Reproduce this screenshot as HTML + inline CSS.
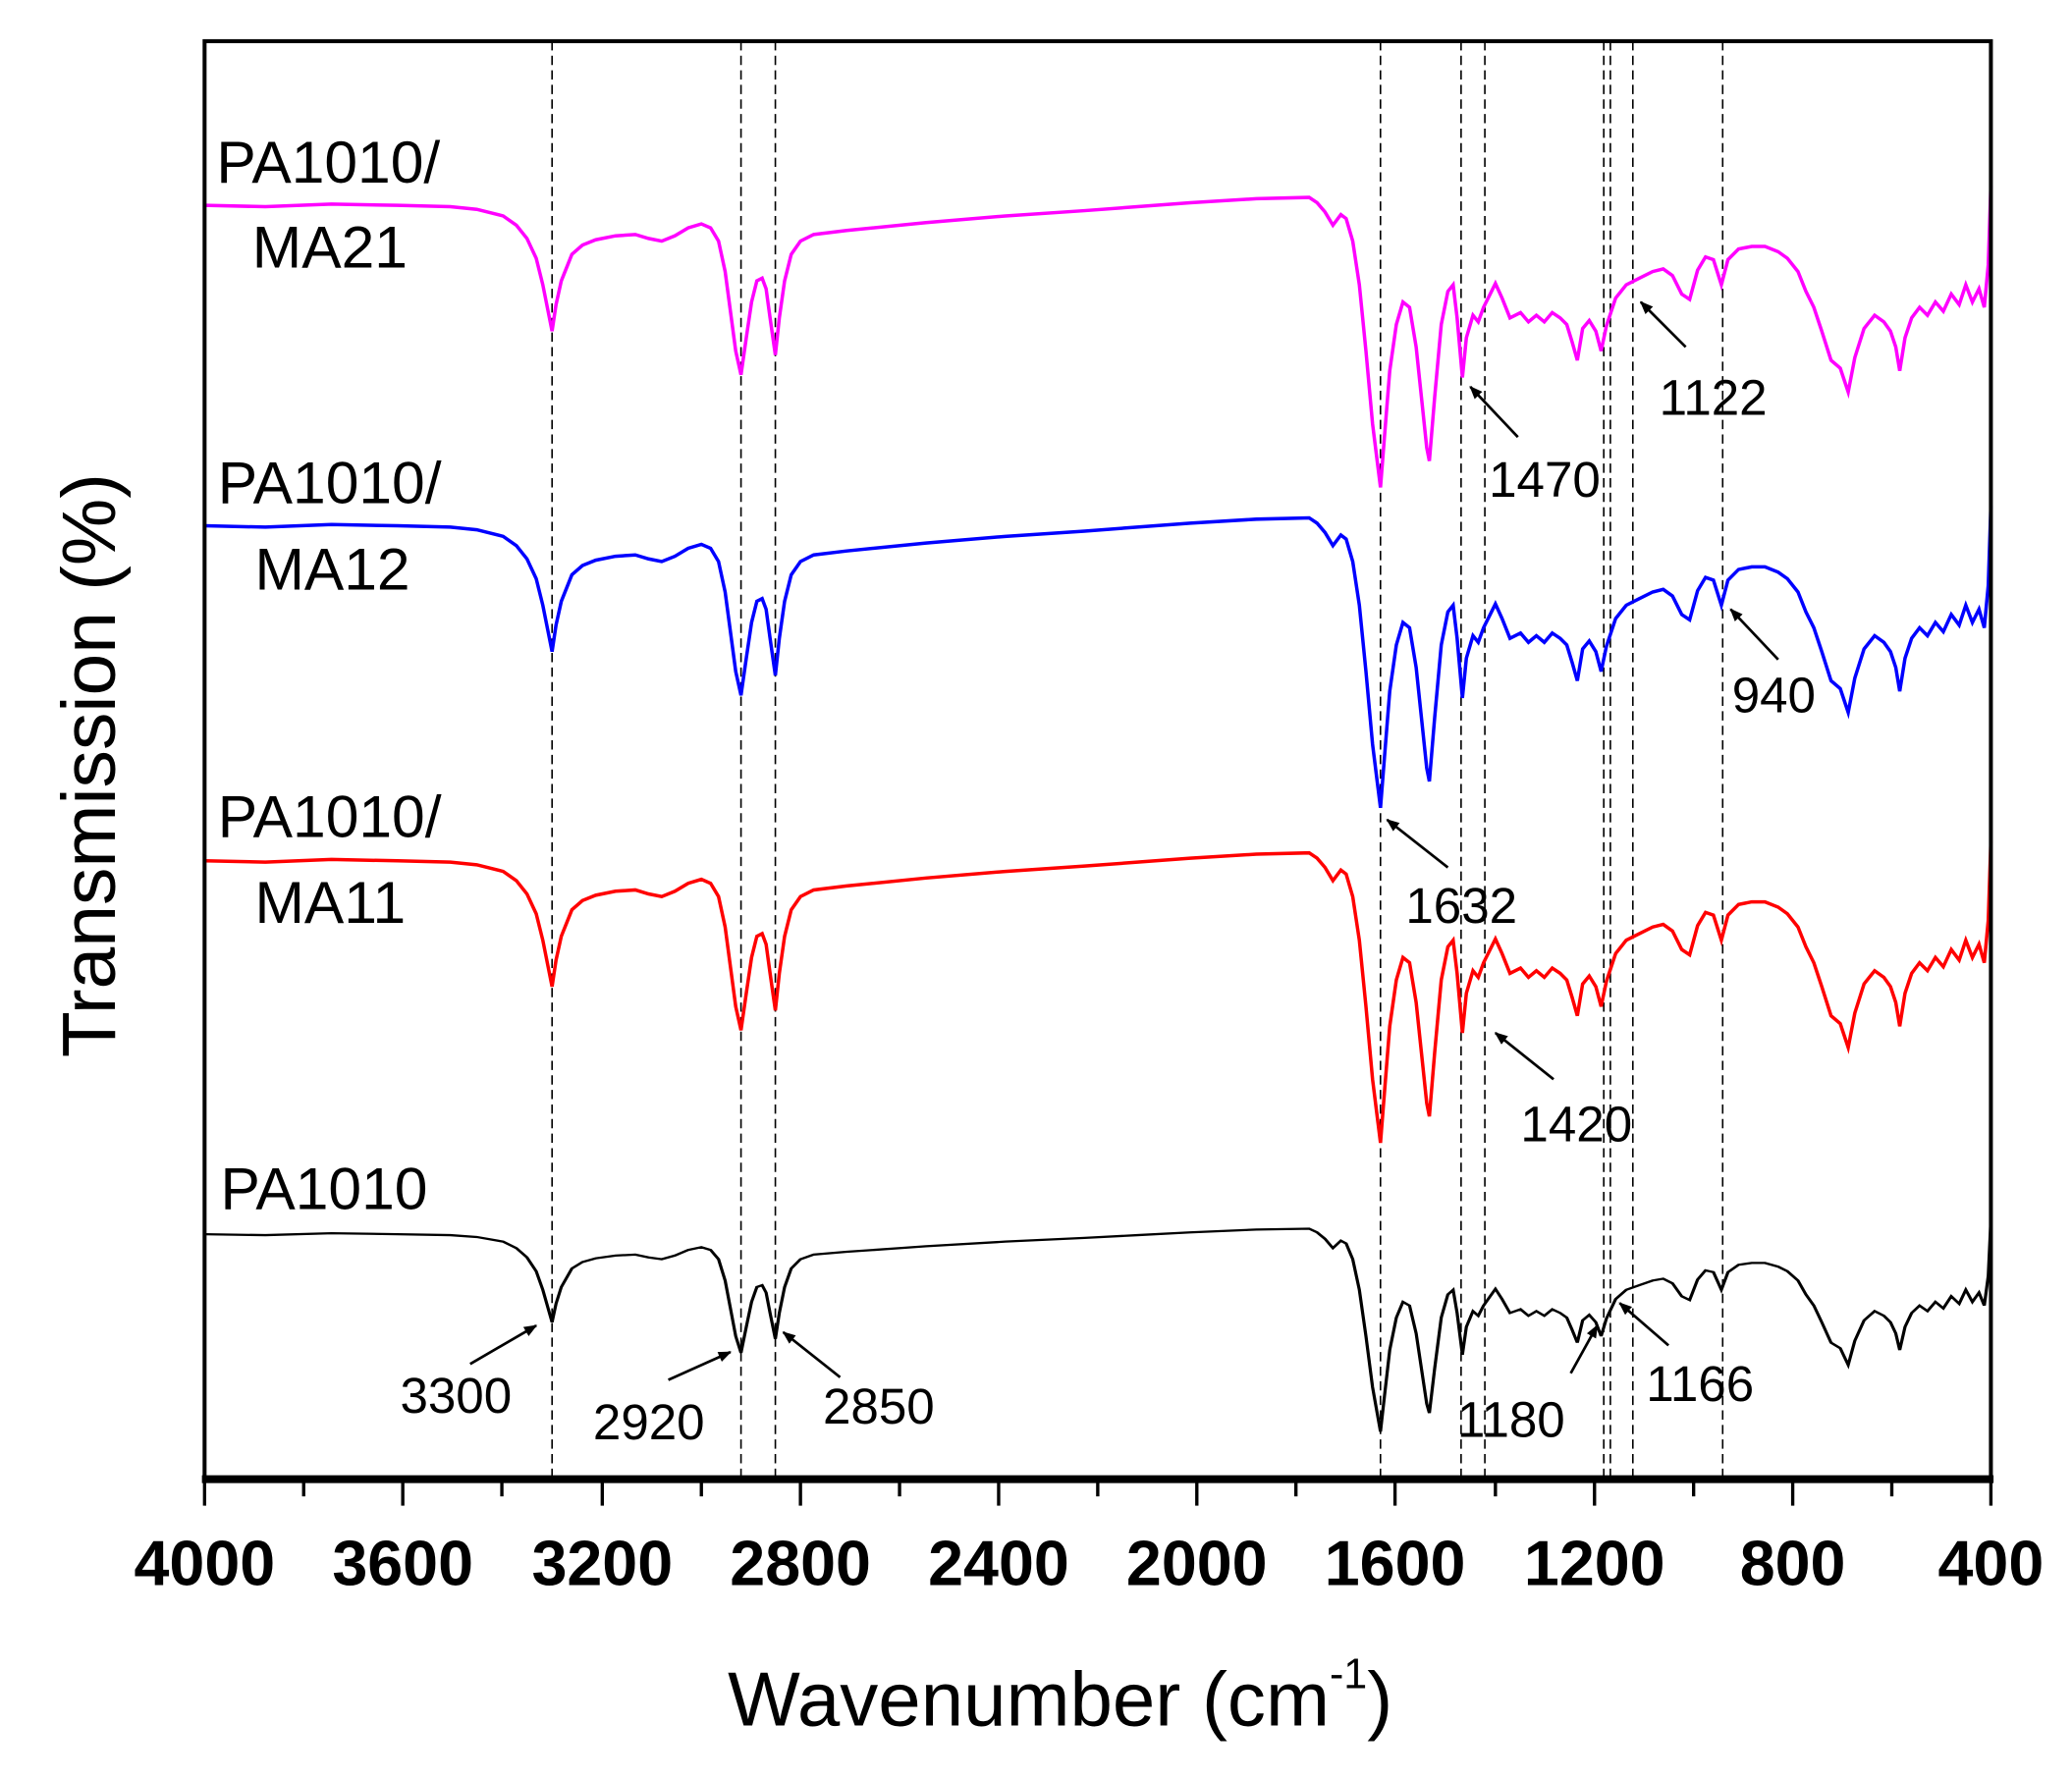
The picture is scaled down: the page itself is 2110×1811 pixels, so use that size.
<!DOCTYPE html>
<html><head><meta charset="utf-8"><style>
html,body{margin:0;padding:0;background:#fff;}
svg{display:block;}
text{font-family:"Liberation Sans",Arial,sans-serif;fill:#000;}
</style></head><body>
<svg width="2110" height="1811" viewBox="0 0 1560 1339" xmlns="http://www.w3.org/2000/svg">
<rect x="0" y="0" width="1560" height="1339" fill="#fff"/>
<defs>
<path id="sp" fill="none" d="M154,155 L200,156 L250,154 L300,155 L340,156 L360,158 L380,163 L390,170 L398,180 L405,195 L410,215 L414,235 L417,250 L420,230 L424,212 L432,192 L440,185 L450,181 L465,178 L480,177 L490,180 L500,182 L510,178 L520,172 L530,169 L537,172 L543,182 L548,205 L552,235 L556,265 L560,283 L564,255 L568,228 L572,212 L576,210 L579,218 L582,240 L586,268 L589,240 L593,212 L598,192 L605,182 L615,177 L640,174 L700,168 L760,163 L820,159 L860,156 L900,153 L950,150 L990,149 L996,153 L1002,160 L1008,170 L1014,162 L1018,165 L1023,182 L1028,215 L1033,265 L1038,320 L1042,352 L1044,368 L1047,330 L1051,280 L1056,245 L1061,228 L1066,232 L1071,262 L1075,300 L1079,338 L1081,348 L1085,300 L1090,245 L1095,220 L1099,215 L1102,240 L1106,285 L1109,255 L1114,238 L1118,243 L1122,232 L1127,222 L1131,214 L1136,225 L1142,240 L1150,236 L1156,243 L1162,238 L1168,243 L1174,236 L1180,240 L1185,245 L1189,258 L1193,272 L1197,248 L1202,242 L1207,250 L1211,265 L1215,246 L1222,225 L1230,215 L1240,210 L1250,205 L1258,203 L1265,208 L1272,222 L1278,226 L1284,204 L1290,194 L1296,196 L1302,215 L1307,196 L1315,188 L1325,186 L1335,186 L1345,190 L1352,195 L1360,205 L1366,220 L1372,232 L1378,250 L1385,272 L1392,278 L1398,296 L1403,270 L1410,248 L1418,238 L1425,243 L1430,250 L1434,262 L1437,280 L1441,255 L1446,240 L1452,232 L1458,238 L1464,228 L1470,235 L1476,222 L1482,230 L1487,215 L1492,228 L1497,218 L1501,232 L1504,200 L1506,140"/>
<marker id="ah" markerWidth="10" markerHeight="8" refX="9" refY="4" orient="auto" markerUnits="userSpaceOnUse"><path d="M0,0 L10,4 L0,8 z" fill="#000"/></marker>
</defs>
<g transform="translate(154,31) scale(0.9948,0.9972) translate(-154,-31)">
<g stroke="#000" stroke-width="1.2" stroke-dasharray="7,4">
<line x1="417" y1="31" x2="417" y2="1115"/>
<line x1="560" y1="31" x2="560" y2="1115"/>
<line x1="586" y1="31" x2="586" y2="1115"/>
<line x1="1044" y1="31" x2="1044" y2="1115"/>
<line x1="1105" y1="31" x2="1105" y2="1115"/>
<line x1="1123" y1="31" x2="1123" y2="1115"/>
<line x1="1213" y1="31" x2="1213" y2="1115"/>
<line x1="1218" y1="31" x2="1218" y2="1115"/>
<line x1="1235" y1="31" x2="1235" y2="1115"/>
<line x1="1303" y1="31" x2="1303" y2="1115"/>
</g>
<use href="#sp" stroke="#ff00ff" stroke-width="2.6"/>
<use href="#sp" stroke="#0000ff" stroke-width="2.6" transform="translate(0,242)"/>
<use href="#sp" stroke="#ff0000" stroke-width="2.6" transform="translate(0,495)"/>
<g transform="translate(0,932) scale(1,0.7) translate(0,-155)">
<use href="#sp" stroke="#000" stroke-width="2.4" style="vector-effect:non-scaling-stroke"/>
</g>
<rect x="154" y="31" width="1352" height="1086" fill="none" stroke="#000" stroke-width="3"/>
<line x1="152" y1="1117" x2="1508" y2="1117" stroke="#000" stroke-width="6"/>
<g stroke="#000" stroke-width="2.5">
<line x1="154" y1="1117" x2="154" y2="1137"/><line x1="229" y1="1117" x2="229" y2="1130"/>
<line x1="304" y1="1117" x2="304" y2="1137"/><line x1="379" y1="1117" x2="379" y2="1130"/>
<line x1="455" y1="1117" x2="455" y2="1137"/><line x1="530" y1="1117" x2="530" y2="1130"/>
<line x1="605" y1="1117" x2="605" y2="1137"/><line x1="680" y1="1117" x2="680" y2="1130"/>
<line x1="755" y1="1117" x2="755" y2="1137"/><line x1="830" y1="1117" x2="830" y2="1130"/>
<line x1="905" y1="1117" x2="905" y2="1137"/><line x1="980" y1="1117" x2="980" y2="1130"/>
<line x1="1055" y1="1117" x2="1055" y2="1137"/><line x1="1131" y1="1117" x2="1131" y2="1130"/>
<line x1="1206" y1="1117" x2="1206" y2="1137"/><line x1="1281" y1="1117" x2="1281" y2="1130"/>
<line x1="1356" y1="1117" x2="1356" y2="1137"/><line x1="1431" y1="1117" x2="1431" y2="1130"/>
<line x1="1506" y1="1117" x2="1506" y2="1137"/>
</g>
<g font-size="48" font-weight="bold" text-anchor="middle">
<text x="154" y="1197">4000</text><text x="304" y="1197">3600</text><text x="455" y="1197">3200</text>
<text x="605" y="1197">2800</text><text x="755" y="1197">2400</text><text x="905" y="1197">2000</text>
<text x="1055" y="1197">1600</text><text x="1206" y="1197">1200</text><text x="1356" y="1197">800</text>
<text x="1506" y="1197">400</text>
</g>
<text x="550" y="1303" font-size="58">Wavenumber (cm<tspan font-size="32" dy="-28">-1</tspan><tspan font-size="58" dy="28">)</tspan></text>
<text transform="translate(86,578) rotate(-90)" font-size="57" text-anchor="middle">Transmission (%)</text>
<g font-size="45">
<text x="163" y="138">PA1010/</text><text x="190" y="202">MA21</text>
<text x="164" y="380">PA1010/</text><text x="192" y="445">MA12</text>
<text x="164" y="632">PA1010/</text><text x="192" y="697">MA11</text>
<text x="166" y="913">PA1010</text>
</g>
<g font-size="38">
<text x="1255" y="313">1122</text><text x="1126" y="375">1470</text>
<text x="1310" y="538">940</text><text x="1063" y="697">1632</text>
<text x="1150" y="862">1420</text><text x="302" y="1067">3300</text>
<text x="448" y="1087">2920</text><text x="622" y="1075">2850</text>
<text x="1102" y="1085">1180</text><text x="1245" y="1058">1166</text>
</g>
<g stroke="#000" stroke-width="2" marker-end="url(#ah)">
<line x1="1275" y1="262" x2="1241" y2="228"/>
<line x1="1148" y1="330" x2="1112" y2="292"/>
<line x1="1345" y1="498" x2="1309" y2="460"/>
<line x1="1095" y1="655" x2="1049" y2="619"/>
<line x1="1175" y1="815" x2="1131" y2="780"/>
<line x1="355" y1="1030" x2="405" y2="1001"/>
<line x1="505" y1="1042" x2="552" y2="1021"/>
<line x1="635" y1="1040" x2="592" y2="1006"/>
<line x1="1188" y1="1037" x2="1208" y2="1001"/>
<line x1="1262" y1="1016" x2="1225" y2="984"/>
</g>
</g>
</svg>
</body></html>
